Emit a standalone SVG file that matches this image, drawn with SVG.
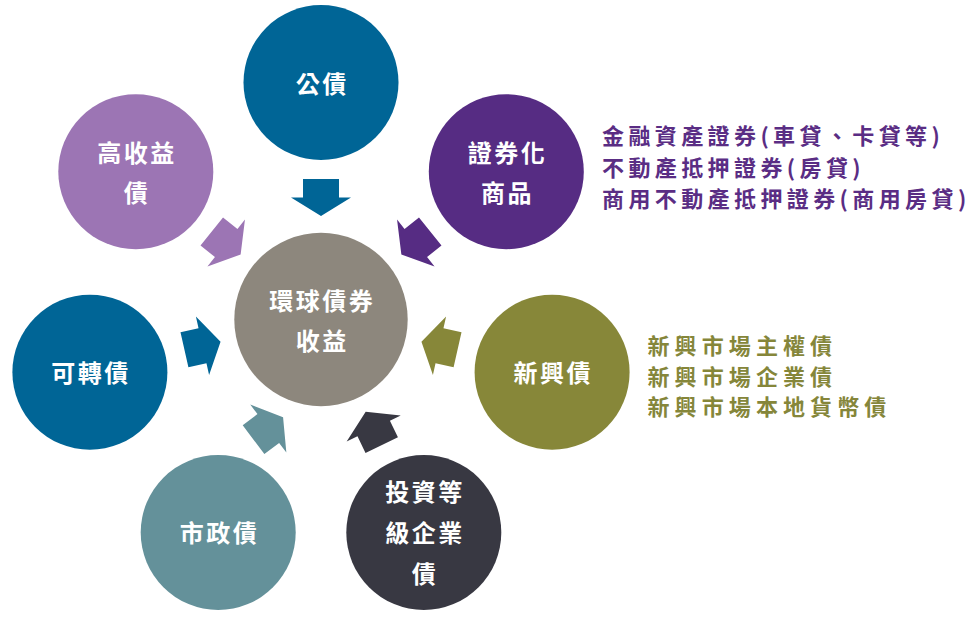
<svg xmlns="http://www.w3.org/2000/svg" xmlns:xlink="http://www.w3.org/1999/xlink" width="976" height="617" viewBox="0 0 976 617">
<style>
.ct{font-family:"Noto Sans CJK TC","Noto Sans CJK SC",sans-serif;font-size:24px;font-weight:700;fill:#ffffff;text-anchor:middle;dominant-baseline:central;letter-spacing:2.5px}
.pt{font-family:"Noto Sans CJK TC","Noto Sans CJK SC",sans-serif;font-size:22px;font-weight:700;fill:#5A2D84;dominant-baseline:central;letter-spacing:4.4px}
.ot{font-family:"Noto Sans CJK TC","Noto Sans CJK SC",sans-serif;font-size:22px;font-weight:700;fill:#85863A;dominant-baseline:central;letter-spacing:5.1px}
</style>
<defs>
<polygon id="arr" points="-18.5,-18 0,-18 0,-30 18.5,0 0,30 0,18 -18.5,18"/>
</defs>
<rect width="976" height="617" fill="#ffffff"/>
<g id="connectors">
<use xlink:href="#arr" href="#arr" fill="#006596" transform="translate(321,197.5) rotate(90)"/>
<use xlink:href="#arr" href="#arr" fill="#562C83" transform="translate(415.8,243) rotate(141.3)"/>
<use xlink:href="#arr" href="#arr" fill="#878739" transform="translate(439.5,345.7) rotate(192.7)"/>
<use xlink:href="#arr" href="#arr" fill="#383842" transform="translate(373.7,428.5) rotate(-115.7)"/>
<use xlink:href="#arr" href="#arr" fill="#64919A" transform="translate(268.3,428.5) rotate(-37)"/>
<use xlink:href="#arr" href="#arr" fill="#006596" transform="translate(202.5,345.7) rotate(-12.7)"/>
<use xlink:href="#arr" href="#arr" fill="#9C75B4" transform="translate(226.2,243) rotate(38.7)"/>
</g>
<g id="center">
<circle cx="321" cy="319.5" r="86.7" fill="#8D877D"/>
<text class="ct" x="322.2" y="299.5">環球債券</text>
<text class="ct" x="322.2" y="339.5">收益</text>
</g>
<g id="gongzhai">
<circle cx="321" cy="82.5" r="77.5" fill="#006596"/>
<text class="ct" x="322.2" y="82">公債</text>
</g>
<g id="zhengquanhua">
<circle cx="506.3" cy="171.7" r="77.5" fill="#562C83"/>
<text class="ct" x="507.5" y="151.5">證券化</text>
<text class="ct" x="507.5" y="191.5">商品</text>
</g>
<g id="xinxing">
<circle cx="552.1" cy="372.2" r="77.5" fill="#878739"/>
<text class="ct" x="553.3" y="371.5">新興債</text>
</g>
<g id="touzi">
<circle cx="423.8" cy="532.5" r="77.5" fill="#383842"/>
<text class="ct" x="425" y="490.5">投資等</text>
<text class="ct" x="425" y="531">級企業</text>
<text class="ct" x="425" y="572">債</text>
</g>
<g id="shizheng">
<circle cx="218.2" cy="532.5" r="77.5" fill="#64919A"/>
<text class="ct" x="219.4" y="531.5">市政債</text>
</g>
<g id="kezhuan">
<circle cx="89.9" cy="372.2" r="77.5" fill="#006596"/>
<text class="ct" x="91.1" y="371.5">可轉債</text>
</g>
<g id="gaoshouyi">
<circle cx="135.8" cy="171.7" r="77.5" fill="#9C75B4"/>
<text class="ct" x="137" y="151.5">高收益</text>
<text class="ct" x="137" y="191.5">債</text>
</g>
<g id="notes-securitized">
<text class="pt" x="602" y="133.5">金融資產證券(車貸、卡貸等)</text>
<text class="pt" x="602" y="166">不動產抵押證券(房貸)</text>
<text class="pt" x="602" y="197">商用不動產抵押證券(商用房貸)</text>
</g>
<g id="notes-em">
<text class="ot" x="647.5" y="344">新興市場主權債</text>
<text class="ot" x="647.5" y="374.5">新興市場企業債</text>
<text class="ot" x="647.5" y="405">新興市場本地貨幣債</text>
</g>
</svg>
